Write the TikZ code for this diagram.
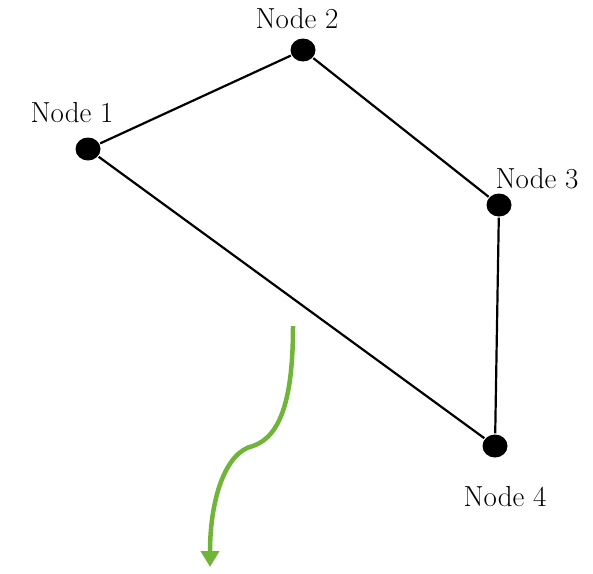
\documentclass[tikz,border=0pt]{standalone}
\usetikzlibrary{arrows.meta}
\definecolor{leafgreen}{RGB}{112,180,58}
\tikzset{every path/.style={line width=2.2pt}}
\tikzset{vertex/.style={ellipse,fill=black,inner sep=0pt,minimum width=25pt,minimum height=23pt}}
\tikzset{vlabel/.style={font=\fontsize{29}{34}\selectfont,inner sep=0pt}}
\usetikzlibrary{shapes.geometric}

\begin{document}
\begin{tikzpicture}[x=1pt,y=-1pt]
    \useasboundingbox (0,0) rectangle (593,573);

    % Nodes

    \node[vertex] (n1) at (88,149) {};
    \node[vertex] (n2) at (303,50) {};
    \node[vertex] (n3) at (499,205) {};
    \node[vertex] (n4) at (495,446) {};

    \node[vlabel] (l1) at (72,113) {Node 1};
    \node[vlabel] (l2) at (297,19) {Node 2};
    \node[vlabel] (l3) at (537,179) {Node 3};
    \node[vlabel] (l4) at (505,497) {Node 4};

    \draw (n1) -- (n2) -- (n3) -- (n4) -- (n1);

    % Arrow

    \coordinate (from) at (293,326);
    \coordinate (kink) at (253,446);
    \coordinate (to) at (210,567);
    \draw[leafgreen,line width=4.5pt,-{Triangle[length=16pt,width=18pt]}]
      (from) .. controls (293,395) and (282,436) .. (kink)
             .. controls (225,452) and (210,500) .. (to);
\end{tikzpicture}
\end{document}
